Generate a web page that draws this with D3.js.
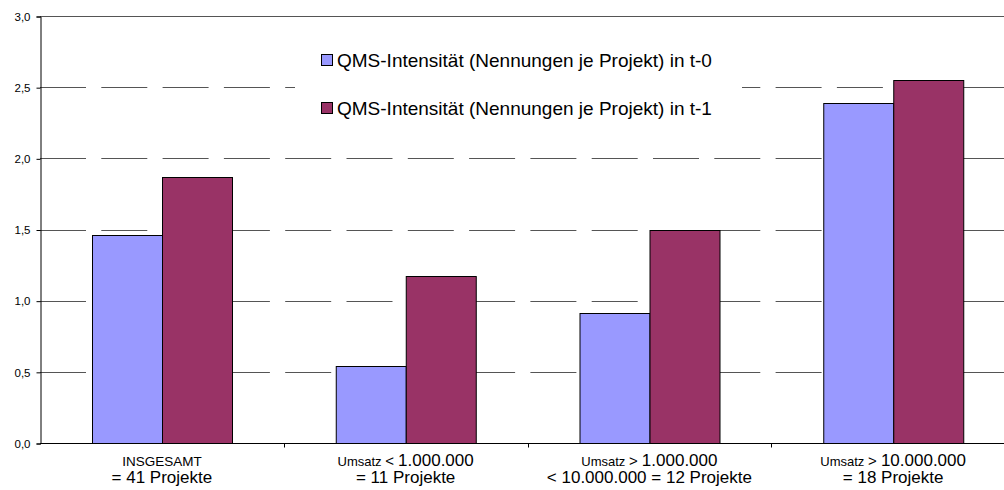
<!DOCTYPE html>
<html>
<head>
<meta charset="utf-8">
<script src="https://cdn.jsdelivr.net/npm/d3@7"></script>
<style>
  body { margin: 0; background: #fff; overflow: hidden; }
  text { font-family: Arial, "Liberation Sans", sans-serif; fill: #000; }
</style>
</head>
<body>
<script>
// chart data
const categories = [
    [["INSGESAMT", 13.5]],
    [["Umsatz ", 13], ["< ", 15], ["1.000.000", 17]],
    [["Umsatz ", 13], ["> ", 15], ["1.000.000", 17]],
    [["Umsatz ", 13], ["> ", 15], ["10.000.000", 17]]
];
const subLabels = ["= 41 Projekte", "= 11 Projekte", "< 10.000.000 = 12 Projekte", "= 18 Projekte"];
const seriesNames = [
    "QMS-Intensität (Nennungen je Projekt) in t-0",
    "QMS-Intensität (Nennungen je Projekt) in t-1"
];
const valuesT0 = [1.46, 0.54, 0.91, 2.39];
const valuesT1 = [1.87, 1.17, 1.50, 2.55];
const yTicks = [0, 0.5, 1.0, 1.5, 2.0, 2.5, 3.0];
const colors = ["#9999FF", "#993366"];

const SIZE = { width: 1004, height: 490, left: 40, plotRight: 1015, top: 16, bottom: 47 };

const svg = d3.select("body").append("svg")
    .attr("width", SIZE.width)
    .attr("height", SIZE.height);

const x0 = d3.scaleBand()
    .domain(d3.range(categories.length))
    .range([SIZE.left, SIZE.plotRight])
    .paddingInner(0).paddingOuter(0);

const x1 = d3.scaleBand()
    .domain([0, 1])
    .range([0, x0.bandwidth()])
    .paddingOuter(0.74).paddingInner(0);

const y = d3.scaleLinear()
    .domain([0, 3])
    .range([SIZE.height - SIZE.bottom, SIZE.top]);

// gridlines
svg.append("g")
    .selectAll("line")
    .data(yTicks.filter(d => d > 0))
    .join("line")
    .attr("x1", SIZE.left)
    .attr("x2", SIZE.width)
    .attr("y1", d => Math.round(y(d)) + 0.5)
    .attr("y2", d => Math.round(y(d)) + 0.5)
    .attr("stroke", "#555")
    .attr("stroke-width", 1)
    .attr("stroke-dasharray", d => d === 3 ? null : "46,15.3");

// bars
const grouped = valuesT0.map((v, i) => [v, valuesT1[i]]);
svg.append("g")
    .selectAll("g")
    .data(grouped)
    .join("g")
    .attr("transform", (d, i) => `translate(${x0(i)},0)`)
    .selectAll("rect")
    .data(d => d)
    .join("rect")
    .attr("x", (d, j) => Math.round(x1(j)) + 0.5)
    .attr("width", Math.round(x1.bandwidth()))
    .attr("y", d => Math.round(y(d)) + 0.5)
    .attr("height", d => Math.round(y(0)) - Math.round(y(d)))
    .attr("fill", (d, j) => colors[j])
    .attr("stroke", "#000")
    .attr("stroke-width", 1);

// legend
const legend = svg.append("g").attr("transform", "translate(295,36)");
legend.append("rect")
    .attr("width", 447).attr("height", 96)
    .attr("fill", "#fff");
const items = legend.selectAll("g.item")
    .data(seriesNames)
    .join("g")
    .attr("class", "item")
    .attr("transform", (d, i) => `translate(0,${31 + i * 48})`);
items.append("rect")
    .attr("x", 26.5).attr("y", -12.5)
    .attr("width", 11).attr("height", 11)
    .attr("fill", (d, i) => colors[i])
    .attr("stroke", "#000");
items.append("text")
    .attr("x", 42).attr("y", 0)
    .style("font-size", "19px")
    .text(d => d);

// y axis
const yAxis = d3.axisLeft(y)
    .tickValues(yTicks)
    .tickSize(4)
    .tickPadding(6)
    .tickFormat(d => d3.format(".1f")(d).replace(".", ","));
svg.append("g")
    .attr("transform", `translate(${SIZE.left + 0.5},0.5)`)
    .call(yAxis)
    .call(g => g.select(".domain").attr("stroke", "#000"))
    .call(g => g.selectAll("text").style("font-size", "11.5px").attr("font-family", null));

// x axis
const xAxisY = Math.round(y(0)) + 0.5;
svg.append("line")
    .attr("x1", SIZE.left).attr("x2", SIZE.width)
    .attr("y1", xAxisY).attr("y2", xAxisY)
    .attr("stroke", "#000");
svg.append("g")
    .selectAll("line")
    .data(d3.range(1, categories.length))
    .join("line")
    .attr("x1", i => Math.round(x0(i)) + 0.5)
    .attr("x2", i => Math.round(x0(i)) + 0.5)
    .attr("y1", xAxisY).attr("y2", xAxisY + 4)
    .attr("stroke", "#000");

const xLabels = svg.append("g")
    .selectAll("g")
    .data(categories)
    .join("g")
    .attr("transform", (d, i) => `translate(${x0(i) + x0.bandwidth() / 2},0)`);
xLabels.append("text")
    .attr("text-anchor", "middle")
    .attr("y", 466)
    .selectAll("tspan")
    .data(d => d)
    .join("tspan")
    .style("font-size", d => d[1] + "px")
    .text(d => d[0]);
xLabels.append("text")
    .attr("text-anchor", "middle")
    .attr("y", 483)
    .style("font-size", "17px")
    .text((d, i) => subLabels[i]);
</script>
</body>
</html>
